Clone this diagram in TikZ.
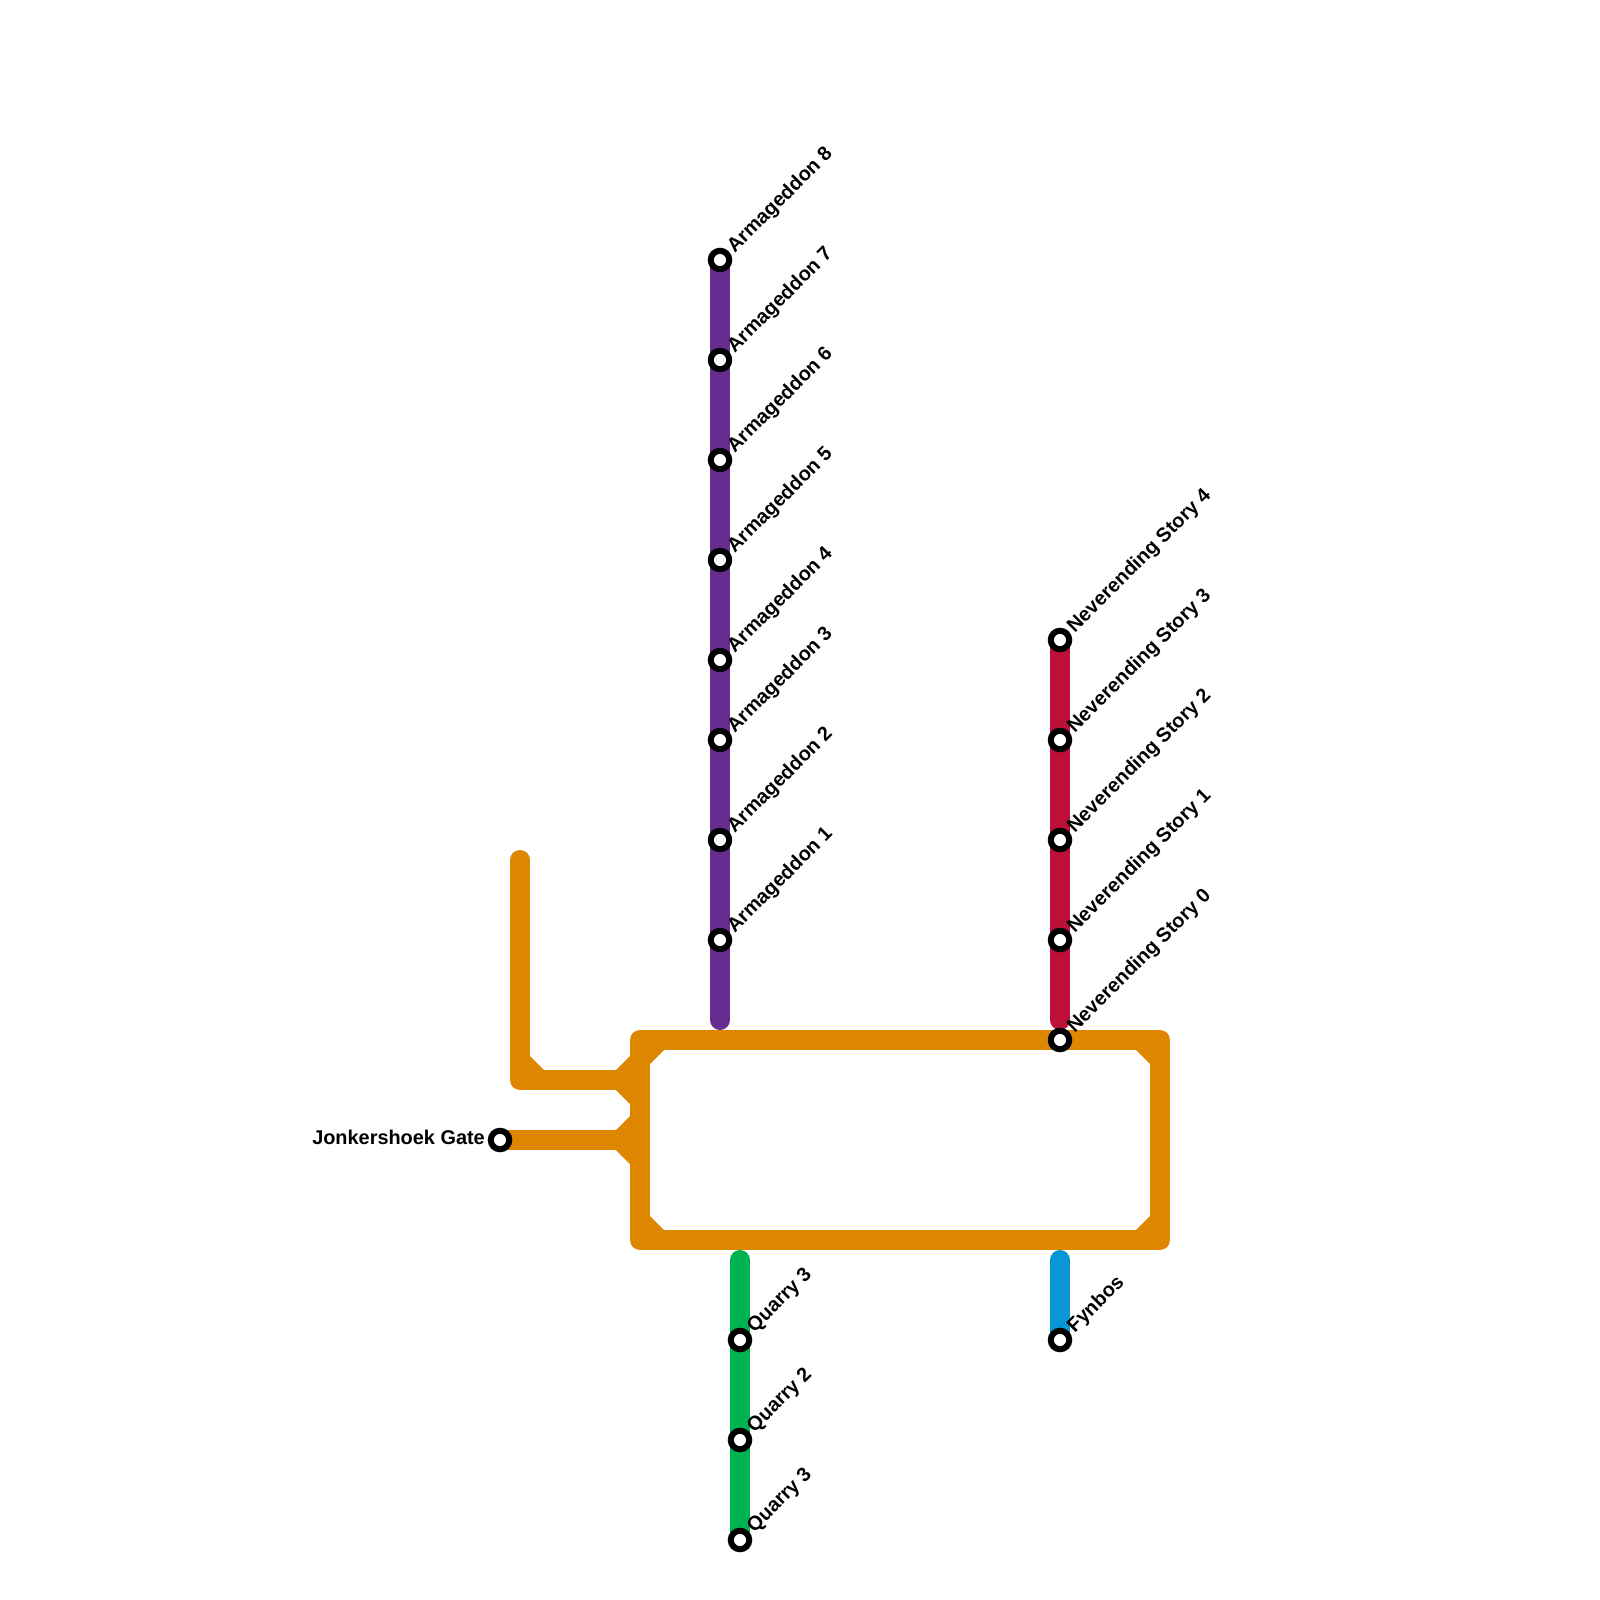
\documentclass[tikz,border=0pt]{standalone}
\usepackage{fontspec}
\setmainfont{Liberation Sans}
\definecolor{orangeline}{HTML}{DF8600}
\definecolor{purpleline}{HTML}{662C90}
\definecolor{redline}{HTML}{BD1038}
\definecolor{greenline}{HTML}{00B251}
\definecolor{blueline}{HTML}{0896D7}
\tikzset{
  metro/.style={line width=20pt,line cap=round,line join=round},
  fillet/.style={fill=orangeline,draw=none},
  station/.style={circle,draw=black,fill=white,line width=6pt,minimum size=18.5pt,inner sep=0pt,outer sep=0pt},
  stationlabel/.style={font=\fontsize{19.9pt}{22pt}\selectfont\bfseries,inner sep=0pt,text=black},
  uplabel/.style={stationlabel,rotate=45,anchor=west}
}
\begin{document}
\begin{tikzpicture}[x=1pt,y=-1pt]
\useasboundingbox[fill=white] (0,0) rectangle (1600,1600);
% corner points of the orange line
\coordinate (tl) at (640,1040);
\coordinate (tr) at (1160,1040);
\coordinate (br) at (1160,1240);
\coordinate (bl) at (640,1240);
\coordinate (stubtop) at (520,860);
\coordinate (stubcorner) at (520,1080);
\coordinate (stubjoin) at (640,1080);
\coordinate (gatejoin) at (640,1140);
\coordinate (purpleend) at (720,1020);
\coordinate (redend) at (1060,1020);
\coordinate (greenend) at (740,1260);
\coordinate (blueend) at (1060,1260);
% stations
\foreach \n/\y in {a8/260,a7/360,a6/460,a5/560,a4/660,a3/740,a2/840,a1/940}
  \coordinate (\n) at (720,\y);
\foreach \n/\y in {n4/640,n3/740,n2/840,n1/940,n0/1040,fy/1340}
  \coordinate (\n) at (1060,\y);
\foreach \n/\y in {q3a/1340,q2/1440,q3b/1540}
  \coordinate (\n) at (740,\y);
\coordinate (gate) at (500,1140);
% lines
\draw[metro,orangeline] (tl) -- (tr) -- (br) -- (bl) -- cycle;
\draw[metro,orangeline,line cap=butt] (stubtop) -- (stubcorner) -- (stubjoin);
\fill[orangeline] (stubtop) circle (10pt);
\draw[metro,orangeline,line cap=butt] (gate) -- (gatejoin);
\fill[fillet] (650,1050) -- (664,1050) -- (650,1064) -- cycle;
\fill[fillet] (1150,1050) -- (1136,1050) -- (1150,1064) -- cycle;
\fill[fillet] (650,1230) -- (664,1230) -- (650,1216) -- cycle;
\fill[fillet] (1150,1230) -- (1136,1230) -- (1150,1216) -- cycle;
\fill[fillet] (530,1070) -- (544,1070) -- (530,1056) -- cycle;
\fill[fillet] (630,1070) -- (616,1070) -- (630,1056) -- cycle;
\fill[fillet] (630,1090) -- (616,1090) -- (630,1104) -- cycle;
\fill[fillet] (630,1130) -- (616,1130) -- (630,1116) -- cycle;
\fill[fillet] (630,1150) -- (616,1150) -- (630,1164) -- cycle;
\draw[metro,purpleline] (a8) -- (purpleend);
\draw[metro,redline] (n4) -- (redend);
\draw[metro,greenline] (greenend) -- (q3b);
\draw[metro,blueline] (blueend) -- (fy);
% station markers and labels
\foreach \n/\t in {a8/Armageddon 8,a7/Armageddon 7,a6/Armageddon 6,a5/Armageddon 5,a4/Armageddon 4,a3/Armageddon 3,a2/Armageddon 2,a1/Armageddon 1,n4/Neverending Story 4,n3/Neverending Story 3,n2/Neverending Story 2,n1/Neverending Story 1,n0/Neverending Story 0,fy/Fynbos,q3a/Quarry 3,q2/Quarry 2,q3b/Quarry 3}{
  \node[station] (\n st) at (\n) {};
  \node[uplabel] (\n lab) at ([xshift=11pt,yshift=10pt]\n) {\t};
}
\node[station] (gatest) at (gate) {};
\node[stationlabel,anchor=east] (gatelab) at (485,1137) {Jonkershoek Gate};
\end{tikzpicture}
\end{document}
